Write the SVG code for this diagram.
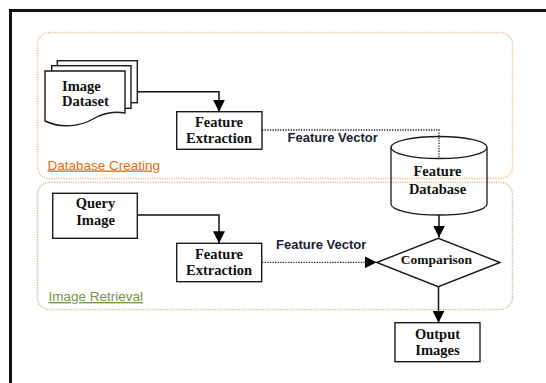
<svg xmlns="http://www.w3.org/2000/svg" width="546" height="383" viewBox="0 0 546 383">
<defs>
<style>
.box{fill:#fff;stroke:#1a1a1a;stroke-width:1.4}
.shape{fill:none;stroke:#1a1a1a;stroke-width:1.3}
.t{font-family:"Liberation Serif","Times New Roman",serif;font-weight:bold;font-size:14.5px;fill:#111;text-anchor:middle}
.lbl{font-family:"Liberation Sans",Arial,sans-serif;font-weight:bold;font-size:13px;fill:#1c2233}
.grp{font-family:"Liberation Sans",Arial,sans-serif;font-size:13.5px;text-decoration:underline}
.solid{fill:none;stroke:#111;stroke-width:1.5}
.dot{fill:none;stroke:#222;stroke-width:1.3;stroke-dasharray:1.3 1.3}
</style>
<marker id="arr" viewBox="0 0 12 12" refX="12" refY="6" markerWidth="12" markerHeight="12" markerUnits="userSpaceOnUse" orient="auto">
<path d="M0,0 L12,6 L0,12 z" fill="#000"/>
</marker>
</defs>
<rect width="546" height="383" fill="#fff"/>
<rect x="10.5" y="10.5" width="560" height="400" fill="none" stroke="#111" stroke-width="3"/>

<g id="database-creating">
<rect x="37.5" y="32.5" width="475" height="146" rx="12" fill="none" stroke="#f5bd8e" stroke-width="1.5" stroke-dasharray="1.2 1.2"/>
<text class="grp" x="47.5" y="169.5" fill="#e46c0a">Database Creating</text>
</g>
<g id="image-retrieval">
<rect x="37.5" y="182.5" width="475" height="127" rx="12" fill="none" stroke="#b5c98c" stroke-width="1.5" stroke-dasharray="1.2 1.2"/>
<text class="grp" x="48.5" y="301" fill="#77933c">Image Retrieval</text>
</g>

<g id="connectors">
<path class="solid" d="M137,91.7 H219 V111.7" marker-end="url(#arr)"/>
<path class="dot" d="M262,130 H439 V158.5"/>
<path class="solid" d="M137.3,215 H219 V243.3" marker-end="url(#arr)"/>
<path class="dot" d="M262,262.3 H376.7" marker-end="url(#arr)"/>
<path class="solid" d="M439,215 V237.5" marker-end="url(#arr)"/>
<path class="solid" d="M438.5,286.7 V322.7" marker-end="url(#arr)"/>
<text class="lbl" x="287.5" y="142.3">Feature Vector</text>
<text class="lbl" x="276" y="249">Feature Vector</text>
</g>

<g id="image-dataset">
<rect class="box" x="57.3" y="60.7" width="80" height="42"/>
<rect class="box" x="51.7" y="65.7" width="79.3" height="42.6"/>
<path class="box" d="M45,71 H125 V113 C114,111 103,113 93,119 C81,126 62,129 45,121 Z"/>
<text class="t" x="62" y="90.7" style="text-anchor:start">Image</text>
<text class="t" x="62" y="106" style="text-anchor:start">Dataset</text>
</g>

<g id="feature-extraction-1">
<rect class="box" x="176.7" y="111.7" width="85.3" height="37.6"/>
<text class="t" x="219" y="127.3">Feature</text>
<text class="t" x="219" y="143.3">Extraction</text>
</g>

<g id="feature-database">
<path class="shape" d="M391,147.5 V204 A48,11 0 0 0 487,204 V147.5"/>
<ellipse class="shape" cx="439" cy="147.5" rx="48" ry="11"/>
<text class="t" x="437.5" y="175.7">Feature</text>
<text class="t" x="437.5" y="194">Database</text>
</g>

<g id="query-image">
<rect class="box" x="52.7" y="193.3" width="84.6" height="45"/>
<text class="t" x="95.5" y="208.3">Query</text>
<text class="t" x="95.5" y="225">Image</text>
</g>

<g id="feature-extraction-2">
<rect class="box" x="176.7" y="243.3" width="85" height="38.4"/>
<text class="t" x="219" y="259.3">Feature</text>
<text class="t" x="219" y="275">Extraction</text>
</g>

<g id="comparison">
<path class="box" d="M376.7,262.5 L438.3,238.3 L500,262.5 L438.3,286.7 Z"/>
<text class="t" x="436.5" y="264.3" style="font-size:13.5px">Comparison</text>
</g>

<g id="output-images">
<rect class="box" x="395" y="322.7" width="85" height="39"/>
<text class="t" x="437.5" y="339.3">Output</text>
<text class="t" x="437.5" y="355">Images</text>
</g>
</svg>
